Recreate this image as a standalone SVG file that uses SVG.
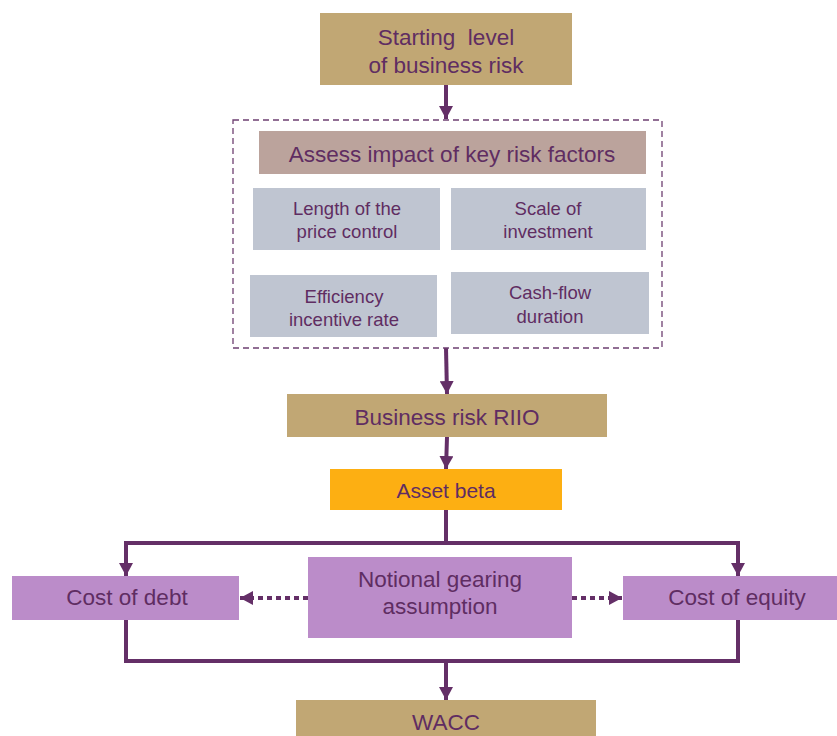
<svg xmlns="http://www.w3.org/2000/svg" width="837" height="736" viewBox="0 0 837 736">
<defs>
<style>
text{font-family:"Liberation Sans",Arial,sans-serif;fill:#5F2D62;text-anchor:middle}
.big{font-size:22.5px}
.sm{font-size:18.5px}
.tan{fill:#C1A774}
.grey{fill:#BFC5D1}
.lav{fill:#BB8CC9}
.conn{stroke:#642F67;stroke-width:4;fill:none}
.dot{stroke:#642F67;stroke-width:4;fill:none;stroke-dasharray:5 4}
</style>
<marker id="ah" viewBox="0 0 13 14" refX="13" refY="7" markerWidth="13" markerHeight="14" markerUnits="userSpaceOnUse" orient="auto">
<path d="M0,0 L13,7 L0,14 z" fill="#642F67"/>
</marker>
</defs>
<rect width="837" height="736" fill="#fff"/>

<g id="connectors">
<line class="conn" x1="446" y1="85" x2="446" y2="119" marker-end="url(#ah)"/>
<line class="conn" x1="446" y1="348" x2="447" y2="394" marker-end="url(#ah)"/>
<line class="conn" x1="447" y1="437" x2="446" y2="469" marker-end="url(#ah)"/>
<polyline class="conn" points="446,510 446,543 126,543 126,576" marker-end="url(#ah)"/>
<polyline class="conn" points="446,543 738,543 738,576" marker-end="url(#ah)"/>
<polyline class="conn" points="126,620 126,661 738,661 738,620"/>
<line class="conn" x1="446" y1="661" x2="446" y2="700" marker-end="url(#ah)"/>
<line class="dot" x1="308" y1="598" x2="240" y2="598" marker-end="url(#ah)"/>
<line class="dot" x1="572" y1="598" x2="622" y2="598" marker-end="url(#ah)"/>
</g>

<g id="start">
<rect class="tan" x="320" y="13" width="252" height="72"/>
<text class="big" x="446" y="45" xml:space="preserve">Starting  level</text>
<text class="big" x="446" y="73">of business risk</text>
</g>

<g id="risk-factors">
<rect x="233" y="120" width="429" height="228" fill="none" stroke="#6E3F71" stroke-width="1.3" stroke-dasharray="6 4"/>
<g id="assess">
<rect x="259" y="131" width="387" height="43" fill="#BBA39C"/>
<text class="big" x="452" y="162">Assess impact of key risk factors</text>
</g>
<g id="length">
<rect class="grey" x="253" y="188" width="187" height="62"/>
<text class="sm" x="347" y="215">Length of the</text>
<text class="sm" x="347" y="238">price control</text>
</g>
<g id="scale">
<rect class="grey" x="451" y="188" width="195" height="62"/>
<text class="sm" x="548" y="215">Scale of</text>
<text class="sm" x="548" y="238">investment</text>
</g>
<g id="efficiency">
<rect class="grey" x="250" y="275" width="187" height="62"/>
<text class="sm" x="344" y="303">Efficiency</text>
<text class="sm" x="344" y="326">incentive rate</text>
</g>
<g id="cashflow">
<rect class="grey" x="451" y="272" width="198" height="62"/>
<text class="sm" x="550" y="299">Cash-flow</text>
<text class="sm" x="550" y="323">duration</text>
</g>
</g>

<g id="riio">
<rect class="tan" x="287" y="394" width="320" height="43"/>
<text class="big" x="447" y="425">Business risk RIIO</text>
</g>

<g id="beta">
<rect x="330" y="469" width="232" height="41" fill="#FDAF12"/>
<text class="big" x="446" y="498" style="font-size:21px">Asset beta</text>
</g>

<g id="debt">
<rect class="lav" x="12" y="576" width="227" height="44"/>
<text class="big" x="127" y="605">Cost of debt</text>
</g>

<g id="gearing">
<rect class="lav" x="308" y="557" width="264" height="81"/>
<text class="big" x="440" y="587">Notional gearing</text>
<text class="big" x="440" y="614">assumption</text>
</g>

<g id="equity">
<rect class="lav" x="623" y="576" width="214" height="44"/>
<text class="big" x="737" y="605">Cost of equity</text>
</g>

<g id="wacc">
<rect class="tan" x="296" y="700" width="300" height="40"/>
<text class="big" x="446" y="730">WACC</text>
</g>
</svg>
